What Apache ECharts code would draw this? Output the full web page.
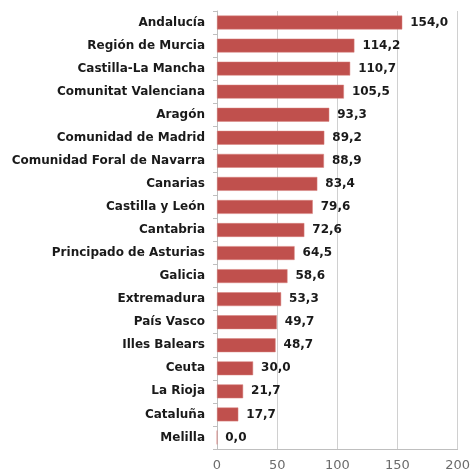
<!DOCTYPE html>
<html>
<head>
<meta charset="utf-8">
<script src="https://cdn.jsdelivr.net/npm/echarts@6/dist/echarts.min.js"></script>
<style>
  html, body { margin: 0; padding: 0; background: #fff; }
  #chart { width: 473px; height: 472px; }
</style>
</head>
<body>
<div id="chart"></div>
<script>
const regions = [
  'Andalucía', 'Región de Murcia', 'Castilla-La Mancha', 'Comunitat Valenciana',
  'Aragón', 'Comunidad de Madrid', 'Comunidad Foral de Navarra', 'Canarias',
  'Castilla y León', 'Cantabria', 'Principado de Asturias', 'Galicia',
  'Extremadura', 'País Vasco', 'Illes Balears', 'Ceuta', 'La Rioja',
  'Cataluña', 'Melilla'
];
const values = [154.0, 114.2, 110.7, 105.5, 93.3, 89.2, 88.9, 83.4, 79.6, 72.6,
  64.5, 58.6, 53.3, 49.7, 48.7, 30.0, 21.7, 17.7, 0.0];
const xTicks = [0, 50, 100, 150, 200];

const fmt = v => v.toFixed(1).replace('.', ',');
const FONT = 'DejaVu Sans';

const chart = echarts.init(document.getElementById('chart'));
chart.setOption({
  animation: false,
  grid: { left: 217, right: 13, top: 11, bottom: 21, containLabel: false },
  xAxis: {
    type: 'value',
    min: xTicks[0],
    max: xTicks[xTicks.length - 1],
    interval: 50,
    axisLine: { show: true, lineStyle: { color: '#bfbfbf' } },
    axisTick: { show: false },
    axisLabel: { color: '#6b6b6b', fontFamily: FONT, fontSize: 13, margin: 10 },
    splitLine: { show: true, lineStyle: { color: '#d0d0d0' } }
  },
  yAxis: {
    type: 'category',
    data: regions,
    inverse: true,
    axisLine: { show: true, lineStyle: { color: '#bfbfbf' } },
    axisTick: { show: true, length: 4, lineStyle: { color: '#bfbfbf' } },
    axisLabel: { color: '#1a1a1a', fontFamily: FONT, fontWeight: 'bold', fontSize: 12, margin: 12 }
  },
  series: [{
    type: 'bar',
    data: values,
    barCategoryGap: '40%',
    itemStyle: { color: '#c0504d', borderColor: '#d8827f', borderWidth: 0.5 },
    label: {
      show: true,
      position: 'right',
      distance: 8,
      formatter: p => fmt(p.value),
      color: '#1a1a1a',
      fontFamily: FONT,
      fontWeight: 'bold',
      fontSize: 12
    }
  }]
});
</script>
</body>
</html>
